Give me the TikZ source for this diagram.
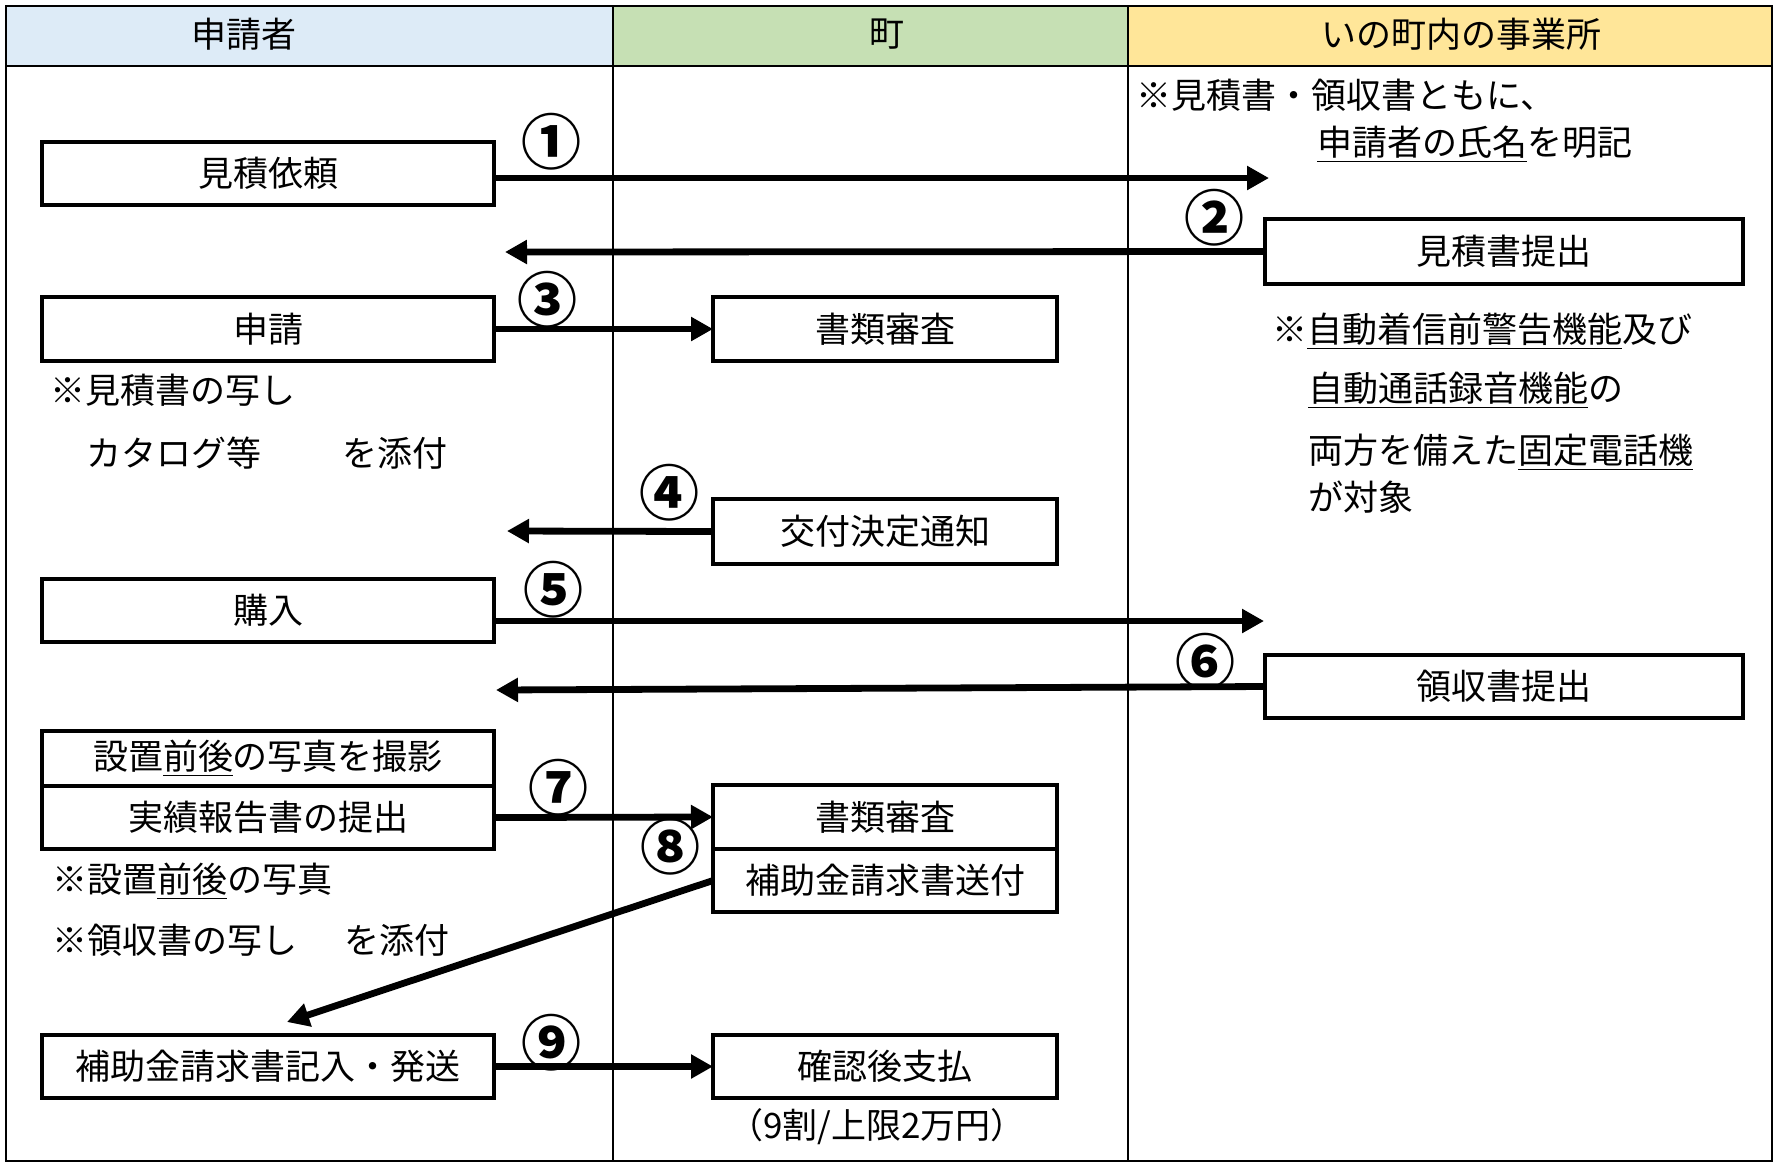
\documentclass[tikz,border=0pt]{standalone}
\usepackage{fontspec}
\setmainfont{Noto Sans CJK JP}
\usetikzlibrary{arrows.meta}
\usetikzlibrary{positioning}
\definecolor{laneA}{HTML}{DDEBF7}
\definecolor{laneB}{HTML}{C6E0B4}
\definecolor{laneC}{HTML}{FFE699}
\newcommand{\jfont}{\fontsize{17.5}{21}\selectfont}
\tikzset{
  box/.style={draw, line width=2.4pt, inner sep=0pt, outer sep=0pt, minimum height=31.5pt, font=\jfont},
  wbox/.style={box, minimum width=226pt},
  mbox/.style={box, minimum width=172pt},
  rbox/.style={box, minimum width=239pt},
  note/.style={anchor=west, inner sep=0pt, font=\jfont},
  num/.style={inner sep=0pt, font=\fontsize{30}{31}\selectfont\bfseries},
  arr/.style={line width=3.4pt, -{Triangle[length=11pt,width=11.5pt]}}
}

\begin{document}
\begin{tikzpicture}[x=0.5pt,y=-0.5pt]
  \useasboundingbox (0,0) rectangle (1779,1164);
  % lanes
  \fill[laneA] (6,6) rectangle (613,66);
  \fill[laneB] (613,6) rectangle (1128,66);
  \fill[laneC] (1128,6) rectangle (1772,66);
  \draw[line width=1.4pt] (6,6) rectangle (1772,1161);
  \draw[line width=1.4pt] (6,66) -- (1772,66);
  \foreach \x in {613,1128}
    \draw[line width=1.2pt] (\x,6) -- (\x,1161);
  \node[font=\jfont] (h1) at (244,34) {申請者};
  \node[font=\jfont] (h2) at (887,34) {町};
  \node[font=\jfont] (h3) at (1461,34) {いの町内の事業所};

  % boxes
  \node[wbox] (b1) at (268,173.5) {見積依頼};
  \node[rbox, minimum height=32.5pt] (b2) at (1504,251.5) {見積書提出};
  \node[wbox, minimum height=32pt] (b3) at (268,329) {申請};
  \node[mbox, minimum height=32pt] (b4) at (885,329) {書類審査};
  \node[mbox, minimum height=32.5pt] (b5) at (885,531.5) {交付決定通知};
  \node[wbox] (b6) at (268,610.5) {購入};
  \node[rbox] (b7) at (1504,686.5) {領収書提出};
  \node[wbox, minimum height=27.5pt] (b8a) at (268,758.5) {設置\underline{前後}の写真を撮影};
  \node[wbox, below=0pt of b8a] (b8b) {実績報告書の提出};
  \node[mbox, minimum height=32pt] (b9a) at (885,817) {書類審査};
  \node[mbox, below=0pt of b9a] (b9b) {補助金請求書送付};
  \node[wbox] (b10) at (268,1066.5) {補助金請求書記入・発送};
  \node[mbox] (b11) at (885,1066.5) {確認後支払};

  % notes
  \node[note] (t1) at (1136,95) {※見積書・領収書ともに、};
  \node[note] (t2) at (1317,144) {\underline{申請者の氏名}を明記};
  \node[note] (t3) at (1272,331) {※\underline{自動着信前警告機能}及び};
  \node[note] (t4) at (1308,390) {\underline{自動通話録音機能}の};
  \node[note] (t5) at (1308,452) {両方を備えた\underline{固定電話機}};
  \node[note] (t6) at (1308,497) {が対象};
  \node[note] (t7) at (50,390) {※見積書の写し};
  \node[note] (t8) at (86,453) {カタログ等};
  \node[note] (t9) at (342,453) {を添付};
  \node[note] (t10) at (52,881) {※設置\underline{前後}の写真};
  \node[note] (t11) at (52,940) {※領収書の写し};
  \node[note] (t12) at (344,940) {を添付};
  \node[font=\jfont, inner sep=0pt] (t13) at (877,1127) {（9割/上限2万円）};

  % arrows
  \coordinate (e1) at (1269,178);
  \coordinate (e2) at (505,252);
  \coordinate (e4) at (507,531);
  \coordinate (e5) at (1264,621);
  \coordinate (e6) at (496,690);
  \coordinate (e8) at (287,1022);
  \draw[arr] (b1.east |- e1) -- (e1);
  \draw[arr] (b2.west) -- (e2);
  \draw[arr] (b3.east) -- (b4.west);
  \draw[arr] (b5.west) -- (e4);
  \draw[arr] (b6.east |- e5) -- (e5);
  \draw[arr] (b7.west) -- (e6);
  \draw[arr] (b8b.east) -- (b9a.west);
  \draw[arr] (b9b.west) -- (e8);
  \draw[arr] (b10.east) -- (b11.west);

  % step numbers
  \foreach \lab/\x/\y [count=\i] in {①/551/142,②/1214/218,③/547/300,④/669/493,⑤/553/590,⑥/1205/662,⑦/558/788,⑧/670/847,⑨/551/1043}
    \node[num] (n\i) at (\x,\y) {\lab};
\end{tikzpicture}
\end{document}
